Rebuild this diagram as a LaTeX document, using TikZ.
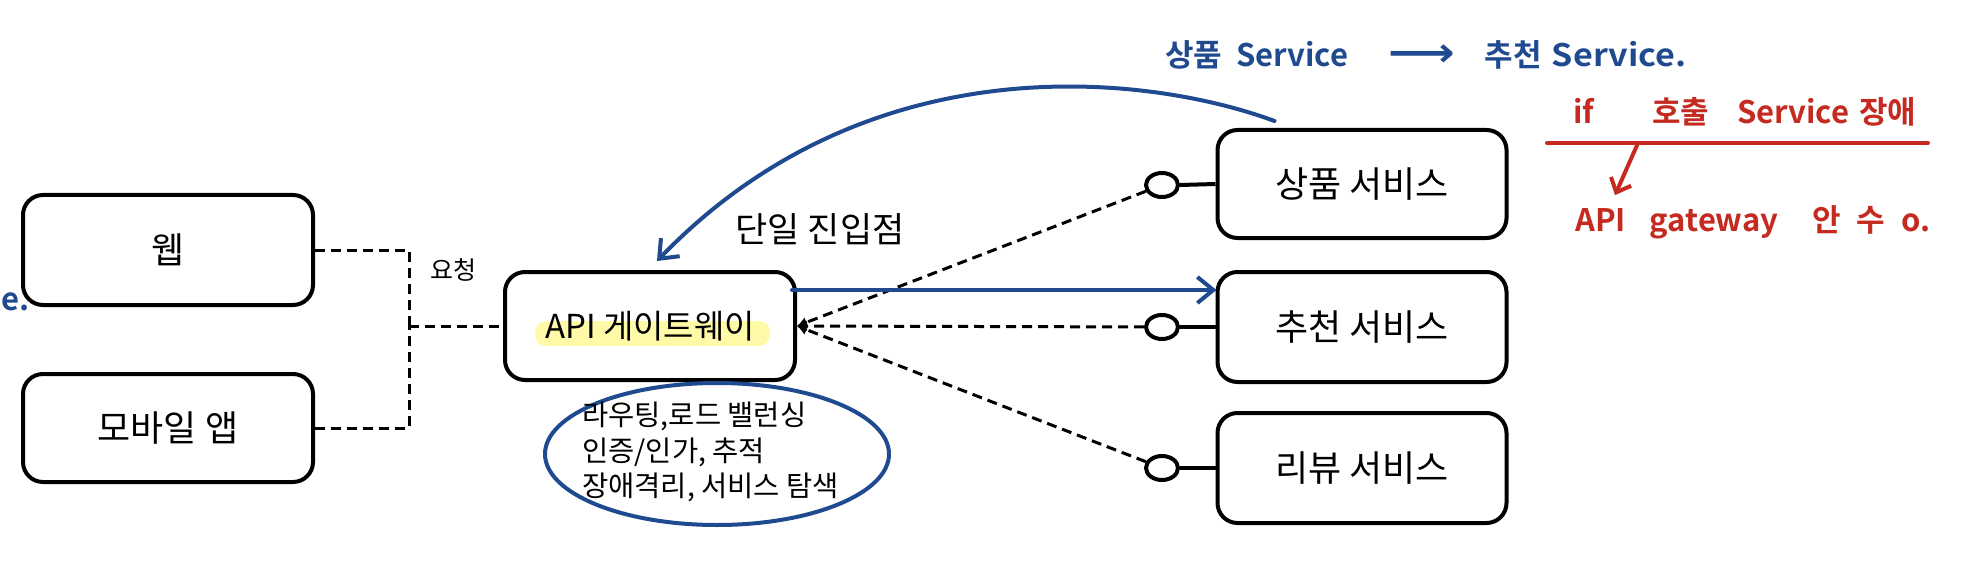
\documentclass[tikz,border=0pt]{standalone}
\usepackage{fontspec}
\setmainfont{Noto Sans CJK KR}
\newfontfamily\hand{Noto Sans CJK KR Bold}
\newfontfamily\symf{DejaVu Sans}
\usetikzlibrary{arrows.meta,shapes.geometric,calc}
\definecolor{penblue}{HTML}{1F4A8F}
\definecolor{penred}{HTML}{C42A1F}
\definecolor{hl}{HTML}{FFFAA8}
\tikzset{
  box/.style={draw, line width=4pt, rounded corners=20pt, minimum width=290pt, minimum height=110pt, inner sep=0pt, font=\fontsize{36}{40}\selectfont},
  plug/.style={draw, ellipse, line width=4pt, minimum width=32pt, minimum height=24pt, inner sep=0pt, fill=white},
  dashline/.style={line width=3pt, dash pattern=on 10pt off 6pt},
  tipL/.style={-{Latex[length=10pt,width=11pt]}},
  solidlink/.style={line width=4pt},
  blueline/.style={draw=penblue, line width=4pt, line cap=round},
  barb/.style={-{Straight Barb[length=16pt,width=26pt,line width=4pt]}},
  redbarb/.style={-{Straight Barb[length=12pt,width=22pt,line width=4pt]}},
  label/.style={inner sep=0pt, font=\fontsize{35}{40}\selectfont},
  handblue/.style={inner sep=0pt, text=penblue, font=\hand\fontsize{31}{36}\selectfont},
  handred/.style={inner sep=0pt, text=penred, font=\hand\fontsize{31}{36}\selectfont}
}
\begin{document}
\begin{tikzpicture}[x=1pt,y=-1pt]
\useasboundingbox (0,0) rectangle (1964,588);
% highlight behind gateway text
\fill[hl, rounded corners=11pt] (535,321) rectangle (770,346);
% nodes
\node[box] (web) at (168,250) {웹};
\node[box, minimum height=108pt] (mobile) at (168,428) {모바일 앱};
\node[box, minimum height=108pt, font=\fontsize{33}{38}\selectfont] (gw) at (650,326) {API 게이트웨이};
\node[box, minimum width=289pt, minimum height=108pt] (svc1) at (1362,184) {상품 서비스};
\node[box, minimum width=289pt] (svc2) at (1362,327) {추천 서비스};
\node[box, minimum width=289pt] (svc3) at (1362,468) {리뷰 서비스};
\node[plug] (c1) at (1162,185) {};
\node[plug] (c2) at (1162,327) {};
\node[plug] (c3) at (1162,468) {};
\node[label, font=\fontsize{25}{29}\selectfont] (req) at (453,270) {요청};
\node[label] (entry) at (820,229) {단일 진입점};
\node[draw=penblue, ellipse, line width=4pt, minimum width=344pt, minimum height=142pt, inner sep=0pt] (el) at (717,454) {};
\node[inner sep=0pt, align=left, anchor=west, font=\fontsize{28.5}{35.5}\selectfont] (feat) at (582,452) {라우팅,로드 밸런싱\\인증/인가, 추적\\장애격리, 서비스 탐색};
% client links
\coordinate (j) at (409,326);
\draw[dashline] (web.east) -| (j);
\draw[dashline] (mobile.east) -| (j);
\draw[dashline] (j) -- (gw.west);
% service links
\foreach \c/\s in {c1/svc1,c2/svc2,c3/svc3}{
  \draw[dashline, tipL] (\c) -- (gw.east);
  \draw[solidlink] (\c.east) -- (\s.west);
}
% blue call arrow
\draw[blueline, barb] ($(gw.north east)+(-5,20)$) -- ($(svc2.north west)+(1,20)$);
% blue curve
\coordinate (cs) at ($(svc1.north west)+(59,-7)$);
\coordinate (ce) at ($(gw.north)+(7,-9)$);
\draw[blueline, barb] (cs) .. controls (1150,75) and (870,40) .. (ce);
% handwritten notes
\node[handblue, anchor=west] (note1) at (1165,55) {상품\hspace{14pt}Service\hspace{40pt}{\symf\bfseries\scalebox{1.5}[1.3]{⟶}}\hspace{30pt}추천\hspace{10pt}\scalebox{1.1}[1]{Service.}};
\node[handblue, anchor=base west] (edge) at (1,310) {e.};
\node[handred, anchor=west] (note2) at (1573,112) {if\hspace{58pt}호출\hspace{28pt}Service\hspace{10pt}장애};
\coordinate (ul1) at (1547,143);
\coordinate (ul2) at (1928,143);
\draw[penred, line width=4pt, line cap=round] (ul1) -- (ul2);
\coordinate (ra1) at (1638,143);
\node[handred, anchor=west] (note3) at (1575,222) {API\hspace{24pt}gateway\hspace{34pt}안\hspace{16pt}수\hspace{16pt}o.};
\draw[penred, line width=4pt, line cap=round, redbarb] (ra1) -- ($(note3.north west)+(40,-10)$);
\end{tikzpicture}
\end{document}
